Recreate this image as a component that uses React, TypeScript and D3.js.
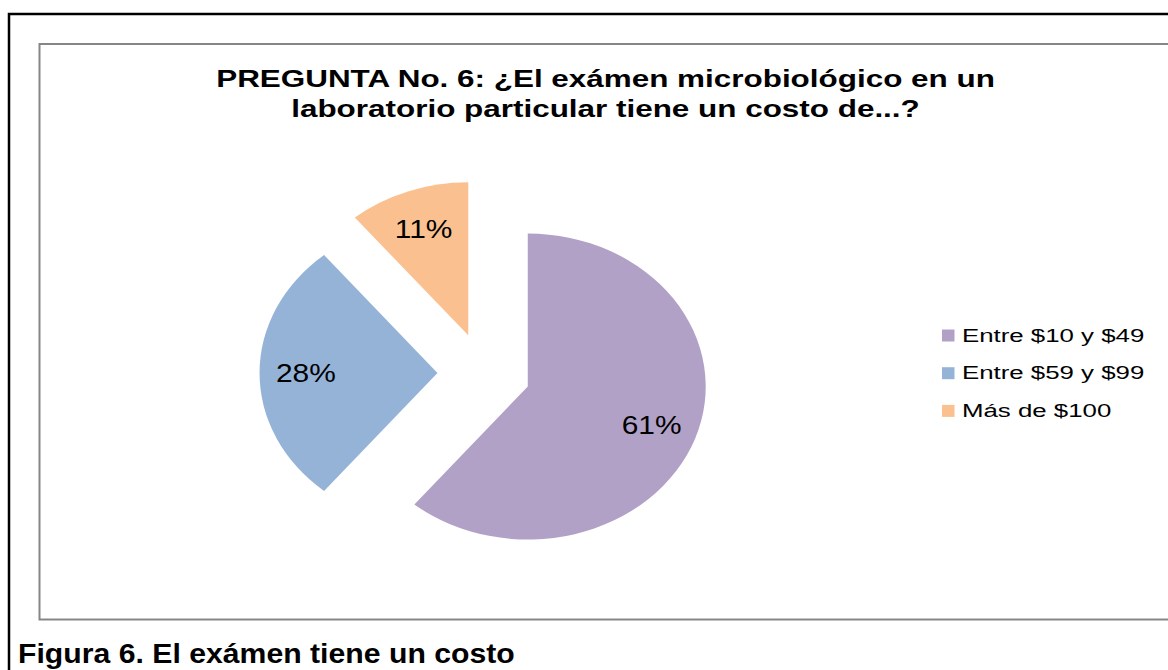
import * as d3 from "d3";

const CATEGORIES = ["Entre $10 y $49", "Entre $59 y $99", "Más de $100"];
const VALUES = [61, 28, 11];
const COLORS = ["#B2A1C7", "#95B3D7", "#FAC08F"];
const TITLE_LINES = [
  "PREGUNTA No. 6: ¿El exámen microbiológico en un",
  "laboratorio particular tiene un costo de...?",
];
const CAPTION = "Figura 6. El exámen tiene un costo";

const W = 1168;
const H = 670;
const FONT = "'Liberation Sans', Arial, sans-serif";

// the source picture is stretched sideways, so the pie is an ellipse
const PIE = { cx: 484, cy: 373, r: 153, sx: 1.163, explode: 40 };

export default function App() {
  const pie = d3
    .pie<number>()
    .sort(null)
    .value((d) => d)
    .startAngle(0)
    .endAngle(2 * Math.PI);
  const arcs = pie(VALUES);
  const arc = d3.arc<d3.PieArcDatum<number>>().innerRadius(0).outerRadius(PIE.r);
  const labelArc = d3
    .arc<d3.PieArcDatum<number>>()
    .innerRadius(PIE.r * 0.74)
    .outerRadius(PIE.r * 0.74);

  const total = d3.sum(VALUES);

  return (
    <svg
      width={W}
      height={H}
      style={{ position: "absolute", left: 0, top: 0, background: "#fff" }}
      fontFamily={FONT}
    >
      {/* frames */}
      <rect x={9} y={14} width={1200} height={700} fill="none" stroke="#000" strokeWidth={2.5} />
      <rect x={39.5} y={44} width={1200} height={575.5} fill="none" stroke="#868686" strokeWidth={2} />

      {/* title */}
      {TITLE_LINES.map((t, i) => (
        <text
          key={t}
          transform={`translate(605.5,${86.5 + i * 30.5}) scale(1.31,1)`}
          textAnchor="middle"
          fontSize={24}
          fontWeight="bold"
          fill="#000"
        >
          {t}
        </text>
      ))}

      {/* slices */}
      {arcs.map((a, i) => {
        const mid = (a.startAngle + a.endAngle) / 2;
        const ox = Math.sin(mid) * PIE.explode;
        const oy = -Math.cos(mid) * PIE.explode;
        return (
          <g key={CATEGORIES[i]} transform={`translate(${PIE.cx},${PIE.cy}) scale(${PIE.sx},1)`}>
            <path d={arc(a) ?? ""} transform={`translate(${ox},${oy})`} fill={COLORS[i]} />
          </g>
        );
      })}

      {/* labels */}
      {arcs.map((a, i) => {
        const mid = (a.startAngle + a.endAngle) / 2;
        const ox = Math.sin(mid) * PIE.explode;
        const oy = -Math.cos(mid) * PIE.explode;
        const [lx, ly] = labelArc.centroid(a);
        const x = PIE.cx + PIE.sx * (ox + lx);
        const y = PIE.cy + oy + ly;
        return (
          <text
            key={`lbl-${i}`}
            transform={`translate(${x},${y + 9}) scale(1.15,1)`}
            textAnchor="middle"
            fontSize={26}
            fill="#000"
          >
            {Math.round((VALUES[i] / total) * 100)}%
          </text>
        );
      })}

      {/* legend */}
      {CATEGORIES.map((c, i) => (
        <g key={c} transform={`translate(942,${341.5 + i * 37.7})`}>
          <rect x={0} y={-12} width={12.5} height={12} fill={COLORS[i]} />
          <text transform="translate(20,0) scale(1.36,1)" fontSize={19} fill="#000">
            {c}
          </text>
        </g>
      ))}

      {/* caption */}
      <text transform="translate(18,663) scale(1.06,1)" fontSize={28.5} fontWeight="bold" fill="#000">
        {CAPTION}
      </text>
    </svg>
  );
}
